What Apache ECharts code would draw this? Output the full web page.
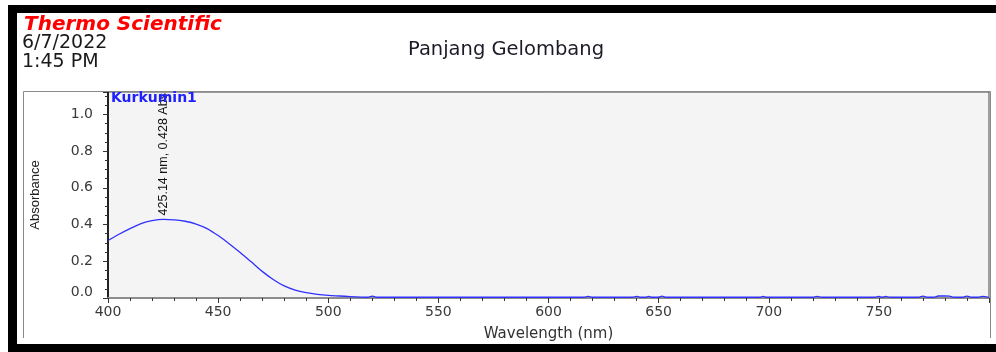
<!DOCTYPE html>
<html>
<head>
<meta charset="utf-8">
<script src="https://cdn.jsdelivr.net/npm/echarts@6/dist/echarts.min.js"></script>
<style>
html,body{margin:0;padding:0;background:#fff;}
#chart{width:996px;height:352px;}
</style>
</head>
<body>
<div id="chart"></div>
<script>
// ---- data ----
const wavelength = [400, 405, 410, 415, 420, 425.14, 430, 435, 440, 445, 450, 455, 460, 465, 470, 475, 480, 485, 490, 495, 500, 505, 510, 515, 518, 520, 522, 540, 560, 580, 600, 616, 618, 620, 638, 640, 642, 644, 645.5, 647, 650, 651.5, 653, 680, 696, 697.5, 699, 720, 722, 724, 748, 750, 751.5, 753, 755, 768, 770, 772, 775, 777, 780, 782, 784, 788, 790, 792, 795, 797, 800];
const absorbance = [0.313, 0.347, 0.378, 0.405, 0.421, 0.428, 0.426, 0.418, 0.403, 0.378, 0.340, 0.296, 0.248, 0.197, 0.145, 0.101, 0.066, 0.043, 0.029, 0.020, 0.014, 0.011, 0.008, 0.005, 0.004, 0.010, 0.004, 0.004, 0.004, 0.004, 0.004, 0.004, 0.009, 0.004, 0.004, 0.009, 0.004, 0.004, 0.009, 0.004, 0.004, 0.010, 0.004, 0.004, 0.004, 0.009, 0.004, 0.004, 0.009, 0.004, 0.004, 0.009, 0.004, 0.009, 0.004, 0.004, 0.010, 0.004, 0.004, 0.011, 0.011, 0.010, 0.004, 0.004, 0.010, 0.004, 0.004, 0.009, 0.004];
const peakWavelength = 425.14;
const peakAbsorbance = 0.428;
const seriesName = 'Kurkumin1';
const chartTitle = 'Panjang Gelombang';
const brand = 'Thermo Scientific';
const dateText = '6/7/2022';
const timeText = '1:45 PM';
const xAxisTitle = 'Wavelength (nm)';
const yAxisTitle = 'Absorbance';

const points = wavelength.map((w, i) => [w, absorbance[i]]);

const chart = echarts.init(document.getElementById('chart'), null, {renderer: 'canvas'});
const option = {
  backgroundColor: '#ffffff',
  animation: false,
  title: {
    text: chartTitle,
    left: 403,
    top: 35,
    textStyle: {fontFamily: 'DejaVu Sans', fontSize: 19.5, fontWeight: 'normal', color: '#1c1c28'}
  },
  grid: {
    left: 108, right: 7, top: 92, bottom: 54,
    show: true, backgroundColor: '#f4f4f4', borderColor: '#444', borderWidth: 1
  },
  xAxis: {
    type: 'value', min: 400, max: 800, interval: 50,
    name: xAxisTitle, nameLocation: 'middle', nameGap: 29,
    nameTextStyle: {fontFamily: 'DejaVu Sans', fontSize: 15, color: '#333'},
    axisLine: {show: true, onZero: false, lineStyle: {color: '#8c8c8c', width: 2}},
    axisTick: {show: true, inside: false, length: 5, lineStyle: {color: '#333', width: 1}},
    minorTick: {show: true, splitNumber: 5, length: 3, lineStyle: {color: '#333', width: 1}},
    axisLabel: {showMaxLabel: false, margin: 7, fontFamily: 'DejaVu Sans', fontSize: 14, color: '#3a3a3a'},
    splitLine: {show: false}
  },
  yAxis: {
    type: 'value', min: 0, max: 1.122, interval: 0.2,
    name: yAxisTitle, nameLocation: 'middle', nameGap: 66, nameRotate: 90,
    nameTextStyle: {fontFamily: 'Liberation Sans', fontSize: 13, color: '#222'},
    axisLine: {show: true, onZero: false, lineStyle: {color: '#222', width: 2}},
    axisTick: {show: true, inside: false, length: 5, lineStyle: {color: '#333', width: 1}},
    minorTick: {show: true, splitNumber: 4, length: 3, lineStyle: {color: '#333', width: 1}},
    axisLabel: {
      showMaxLabel: false, margin: 15, fontFamily: 'DejaVu Sans', fontSize: 14, color: '#3a3a3a',
      formatter: v => v === 0 ? '{z|0.0}' : v.toFixed(1),
      rich: {z: {fontFamily: 'DejaVu Sans', fontSize: 14, color: '#3a3a3a', padding: [0, 0, 12, 0]}}
    },
    splitLine: {show: false}
  },
  series: [{
    name: seriesName,
    type: 'line',
    data: points,
    showSymbol: false,
    smooth: 0.3,
    lineStyle: {color: '#3030ff', width: 1.3},
    itemStyle: {color: '#3030ff'},
    markPoint: {
      symbol: 'circle', symbolSize: 0,
      data: [{coord: [peakWavelength, peakAbsorbance], value: peakAbsorbance}],
      label: {
        show: true, position: 'top', distance: 4, rotate: 90, align: 'left', verticalAlign: 'middle',
        formatter: () => peakWavelength.toFixed(2) + ' nm, ' + peakAbsorbance.toFixed(3) + ' Abs',
        fontFamily: 'Liberation Sans', fontSize: 12.5, color: '#111'
      }
    }
  }],
  graphic: [
    {type: 'rect', z: 100, shape: {x: 8, y: 5, width: 988, height: 8}, style: {fill: '#000'}},
    {type: 'rect', z: 100, shape: {x: 8, y: 5, width: 9, height: 347}, style: {fill: '#000'}},
    {type: 'rect', z: 100, shape: {x: 8, y: 344, width: 988, height: 8}, style: {fill: '#000'}},
    {type: 'polyline', z: 1, shape: {points: [[23.5, 338], [23.5, 91.5], [990.5, 91.5], [990.5, 338]]}, style: {fill: 'none', stroke: '#8a8a8a', lineWidth: 1}},
    {type: 'text', z: 100, left: 24, top: 15, style: {text: brand, fill: '#ff0000', font: "italic bold 20px 'DejaVu Sans'"}},
    {type: 'text', z: 100, left: 22, top: 34, style: {text: dateText, fill: '#1a1a1a', font: "19px 'DejaVu Sans'"}},
    {type: 'text', z: 100, left: 22, top: 53, style: {text: timeText, fill: '#1a1a1a', font: "19px 'DejaVu Sans'"}},
    {type: 'text', z: 100, left: 111, top: 91, style: {text: seriesName, fill: '#2020ff', font: "bold 14px 'DejaVu Sans'"}}
  ]
};
chart.setOption(option);
</script>
</body>
</html>
